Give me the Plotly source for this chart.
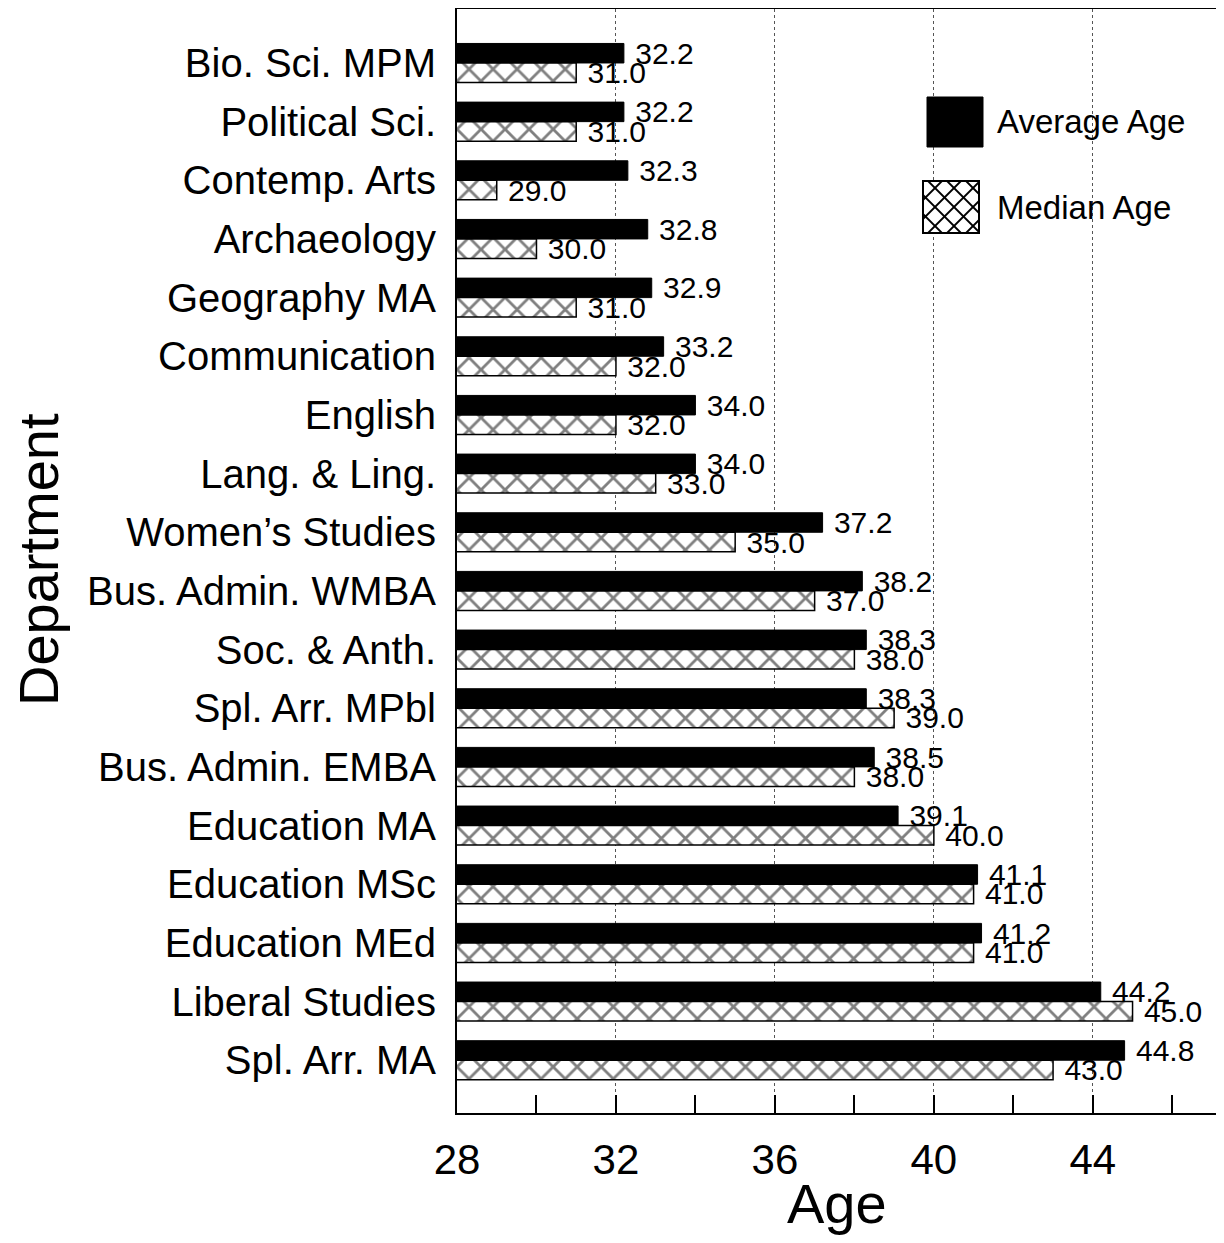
import plotly.graph_objects as go
import numpy as np

departments = [
    "Bio. Sci. MPM", "Political Sci.", "Contemp. Arts", "Archaeology",
    "Geography MA", "Communication", "English", "Lang. & Ling.",
    "Women’s Studies", "Bus. Admin. WMBA", "Soc. & Anth.", "Spl. Arr. MPbl",
    "Bus. Admin. EMBA", "Education MA", "Education MSc", "Education MEd",
    "Liberal Studies", "Spl. Arr. MA",
]
average_age = [32.2, 32.2, 32.3, 32.8, 32.9, 33.2, 34.0, 34.0, 37.2, 38.2,
               38.3, 38.3, 38.5, 39.1, 41.1, 41.2, 44.2, 44.8]
median_age = [31.0, 31.0, 29.0, 30.0, 31.0, 32.0, 32.0, 33.0, 35.0, 37.0,
              38.0, 39.0, 38.0, 40.0, 41.0, 41.0, 45.0, 43.0]

FONT = "Liberation Sans, Arial, Helvetica, sans-serif"
PAD = "\u00a0"

fig = go.Figure()
fig.add_trace(go.Bar(
    y=departments, x=average_age, orientation="h", name="Average Age",
    marker=dict(color="black", line=dict(color="black", width=1)),
    text=[PAD + f"{v:.1f}" for v in average_age], textposition="outside",
    textfont=dict(size=30, color="black", family=FONT),
    constraintext="none", cliponaxis=False, showlegend=False,
))
fig.add_trace(go.Bar(
    y=departments, x=median_age, orientation="h", name="Median Age",
    marker=dict(color="white", line=dict(color="black", width=1.5),
                pattern=dict(shape="x", fgcolor="black", bgcolor="white",
                             size=17, solidity=0.3)),
    text=[PAD + f"{v:.1f}" for v in median_age], textposition="outside",
    textfont=dict(size=30, color="black", family=FONT),
    constraintext="none", cliponaxis=False, showlegend=False,
))

OFF = 8  # page offset of the figure
W, H = 1208, 1227
ml, mr, mt, mb = 449, 0, 1, 122
pw, ph = W - ml - mr, H - mt - mb

def px2paper(x, y):
    return (x - OFF - ml) / pw, 1 - (y - OFF - mt) / ph

shapes = []
x0, y0 = px2paper(927, 97)
x1, y1 = px2paper(983, 147)
shapes.append(dict(type="rect", xref="paper", yref="paper", x0=x0, x1=x1,
                   y0=y1, y1=y0, fillcolor="black", line=dict(color="black", width=1)))
bx0, by0, bx1, by1 = 923, 181, 979, 233
x0, y0 = px2paper(bx0, by0)
x1, y1 = px2paper(bx1, by1)
shapes.append(dict(type="rect", xref="paper", yref="paper", x0=x0, x1=x1,
                   y0=y1, y1=y0, fillcolor="white", line=dict(color="black", width=2)))
w, h = bx1 - bx0, by1 - by0
step = 19
segs = []
for c in np.arange(-h, w + h, step):
    xs = np.clip([c, c + h], 0, w)
    ya2, yb2 = xs[0] - c, xs[1] - c
    if xs[1] - xs[0] > 1:
        segs.append(((xs[0], ya2), (xs[1], yb2)))
        segs.append(((xs[0], h - ya2), (xs[1], h - yb2)))
for (p, q) in segs:
    ax0, ay0 = px2paper(bx0 + p[0], by0 + p[1])
    ax1, ay1 = px2paper(bx0 + q[0], by0 + q[1])
    shapes.append(dict(type="line", xref="paper", yref="paper", x0=ax0, y0=ay0,
                       x1=ax1, y1=ay1, line=dict(color="black", width=1.8)))

annotations = []
for label, yy in [("Average Age", 122), ("Median Age", 208)]:
    ax, ay = px2paper(995, yy)
    annotations.append(dict(text=label, xref="paper", yref="paper", x=ax, y=ay,
                            xanchor="left", yanchor="middle", showarrow=False,
                            font=dict(size=33, color="black", family=FONT)))

# axis titles
ax, ay = px2paper(837, 1203)
annotations.append(dict(text="Age", xref="paper", yref="paper", x=ax, y=ay,
                        xanchor="center", yanchor="middle", showarrow=False,
                        borderpad=0,
                        font=dict(size=56, color="black", family=FONT)))
ax, ay = px2paper(38, 560)
annotations.append(dict(text="Department", xref="paper", yref="paper", x=ax, y=ay,
                        xanchor="center", yanchor="middle", showarrow=False, textangle=-90,
                        borderpad=0,
                        font=dict(size=56, color="black", family=FONT)))

fig.update_layout(
    width=W, height=H,
    margin=dict(l=ml, r=mr, t=mt, b=mb),
    paper_bgcolor="white", plot_bgcolor="white",
    barmode="group", bargap=0.335, bargroupgap=0,
    font=dict(family=FONT, color="black"),
    shapes=shapes, annotations=annotations,
    xaxis=dict(
        range=[28, 47.1], tick0=28, dtick=4,
        ticks="inside", ticklen=18, tickwidth=2, tickcolor="black",
        tickfont=dict(size=42, family=FONT, color="black"),
        ticklabelstandoff=9,
        showline=True, linecolor="black", linewidth=2, mirror=True,
        showgrid=True, gridcolor="#555555", griddash="dot", gridwidth=1,
        minor=dict(dtick=2, ticks="inside", ticklen=18, tickwidth=2,
                   tickcolor="black", showgrid=False),
        zeroline=False,
        automargin=False,
    ),
    yaxis=dict(
        type="category", categoryorder="array", categoryarray=departments,
        range=[17.9, -0.92],
        showline=True, linecolor="black", linewidth=2, mirror=True,
        ticks="", showgrid=False,
        tickfont=dict(size=40, family=FONT, color="black"),
        ticklabelstandoff=11,
        automargin=False,
    ),
)

fig.write_html("out.html")
